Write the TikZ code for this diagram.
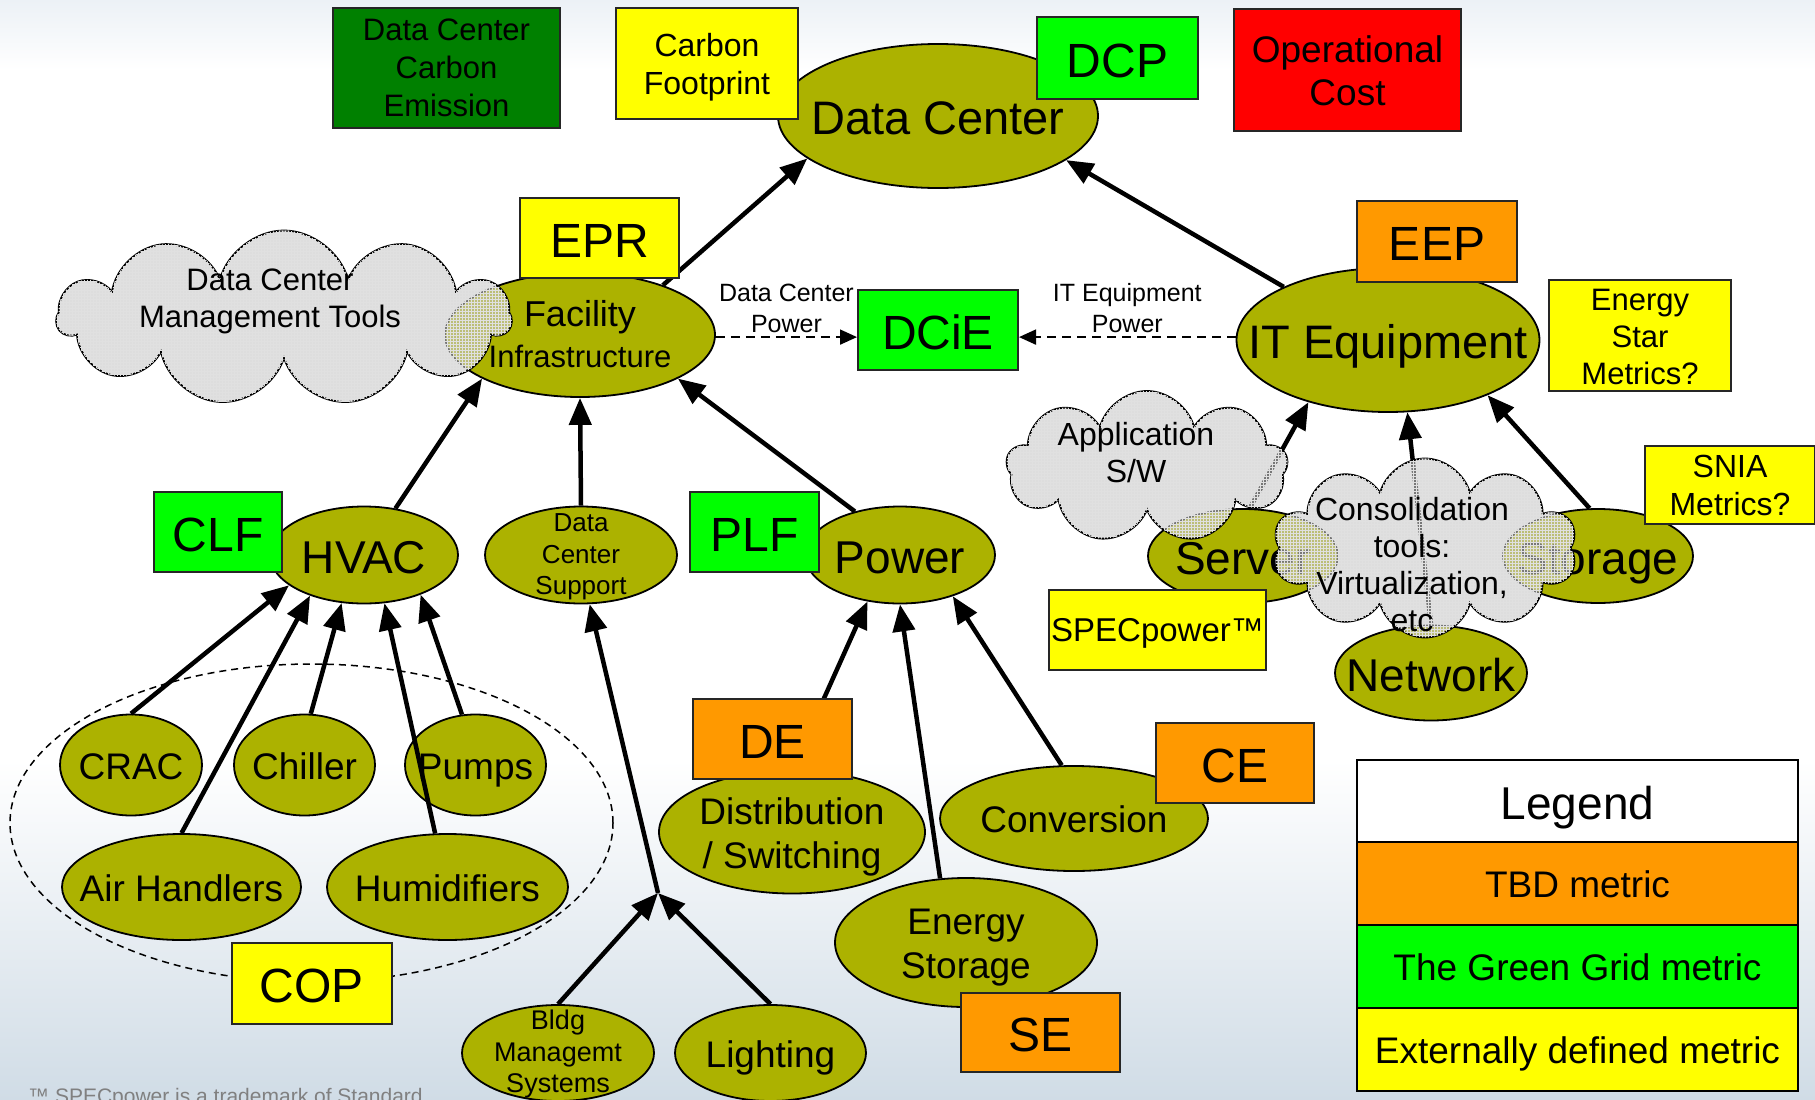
\documentclass[tikz,border=0pt]{standalone}
\usepackage{fontspec}
\setmainfont{Liberation Sans}
\usetikzlibrary{shapes.geometric,shapes.symbols,arrows.meta,patterns}
\definecolor{olivefill}{RGB}{172,178,0}
\definecolor{tgg}{RGB}{0,255,0}
\definecolor{dkg}{RGB}{0,128,0}
\definecolor{ylw}{RGB}{255,255,0}
\definecolor{org}{RGB}{255,153,0}
\definecolor{redbox}{RGB}{255,0,0}
\definecolor{topbg}{RGB}{236,241,246}
\definecolor{botbg}{RGB}{208,220,230}
\newcommand\zbo[3]{\makebox[0pt]{\raisebox{\dimexpr-0.31em+#2\relax}[0pt][0pt]{\hspace*{#1}\hspace*{#1}\begin{tabular}{@{}c@{}}#3\end{tabular}}}}
\newcommand\zb[1]{\zbo{0pt}{0pt}{#1}}
\begin{document}
\begin{tikzpicture}[x=1pt,y=-1pt,
  ell/.style={ellipse, draw=black, line width=1.8pt, fill=olivefill, inner sep=0pt, font=\fontsize{37}{44}\selectfont},
  mbox/.style={rectangle, draw=black!85, line width=2pt, inner sep=0pt, font=\fontsize{48}{52}\selectfont},
  cld/.style={cloud, cloud ignores aspect, draw=black, line width=1.8pt, fill=black!22, fill opacity=0.6, text opacity=1, inner sep=0pt, font=\fontsize{32}{37}\selectfont},
  legrow/.style={rectangle, draw=black, line width=2.5pt, inner sep=0pt, minimum width=441pt, minimum height=83pt, font=\fontsize{37}{44}\selectfont},
  arr/.style={line width=4.5pt, -{Triangle[length=27pt,width=22pt]}},
  darr/.style={line width=1.8pt, dash pattern=on 9pt off 6pt, -{Triangle[length=17pt,width=15pt]}},
  lab/.style={font=\fontsize{25}{31}\selectfont, align=center, inner sep=3pt},
]
\useasboundingbox (0,0) rectangle (1815,1100);
\fill[white] (0,0) rectangle (1815,1100);
\shade[top color=topbg, bottom color=white] (0,0) rectangle (1815,70);
\shade[top color=white, bottom color=botbg] (0,760) rectangle (1815,1100);

% dashed group ellipse
\node[ellipse, draw=black, line width=1.5pt, dash pattern=on 7pt off 5pt, minimum width=603pt, minimum height=318pt, inner sep=0pt] (hvacgrp) at (311.5,823) {};

% ellipses
\node[ell, minimum width=320pt, minimum height=144pt, font=\fontsize{47}{52}\selectfont] (dc) at (938,116) {\zb{Data Center}};
\node[ell, minimum width=270pt, minimum height=124pt, font=\fontsize{31}{41}\selectfont] (fac) at (580,335) {\zb{{\fontsize{36}{41}\selectfont Facility}\\Infrastructure}};
\node[ell, minimum width=303pt, minimum height=144pt, font=\fontsize{47}{52}\selectfont] (it) at (1388,340) {\zb{IT Equipment}};
\node[ell, minimum width=188pt, minimum height=97pt, font=\fontsize{46}{50}\selectfont] (hvac) at (364,555) {\zb{HVAC}};
\node[ell, minimum width=192pt, minimum height=97pt, font=\fontsize{26}{31.5}\selectfont] (dcs) at (581,555) {\zb{Data\\Center\\Support}};
\node[ell, minimum width=190pt, minimum height=97pt, font=\fontsize{46}{50}\selectfont] (power) at (900,555) {\zb{Power}};
\node[ell, minimum width=190pt, minimum height=94pt, font=\fontsize{46}{50}\selectfont] (server) at (1243,556) {\zb{Server}};
\node[ell, minimum width=190pt, minimum height=94pt, font=\fontsize{46}{50}\selectfont] (storage) at (1598,556) {\zb{Storage}};
\node[ell, minimum width=192pt, minimum height=95pt, font=\fontsize{46}{50}\selectfont] (network) at (1431,673) {\zb{Network}};
\node[ell, minimum width=142pt, minimum height=101pt] (crac) at (131,765) {\zb{CRAC}};
\node[ell, minimum width=141pt, minimum height=101pt] (chiller) at (304.5,765) {\zb{Chiller}};
\node[ell, minimum width=141pt, minimum height=101pt] (pumps) at (475.5,765) {\zb{Pumps}};
\node[ell, minimum width=239pt, minimum height=106pt] (airh) at (181.5,887) {\zb{Air Handlers}};
\node[ell, minimum width=241pt, minimum height=106pt] (humid) at (447.5,887) {\zb{Humidifiers}};
\node[ell, minimum width=266pt, minimum height=123pt] (dist) at (792,832) {\zb{Distribution\\/ Switching}};
\node[ell, minimum width=268pt, minimum height=105pt] (conv) at (1074,818.5) {\zb{Conversion}};
\node[ell, minimum width=262pt, minimum height=129pt] (estor) at (966,942.5) {\zb{Energy\\Storage}};
\node[ell, minimum width=192pt, minimum height=96pt, font=\fontsize{27}{31.5}\selectfont] (bldg) at (558,1053) {\zb{Bldg\\Managemt\\Systems}};
\node[ell, minimum width=191pt, minimum height=96pt] (light) at (770.5,1053) {\zb{Lighting}};
\coordinate (j) at (658,893);
\node[mbox, fill=tgg, minimum width=160pt, minimum height=80pt] (dcie) at (938,330) {\zb{DCiE}};

% connectors
\draw[arr] (fac.31) -- (dc.198);
\draw[arr] (it.153) -- (dc.341);
\draw[darr] (fac.east |- dcie.185) -- (dcie.185) node[lab, midway, above] {Data Center\\Power};
\draw[darr] (it.west |- dcie.-5) -- (dcie.-5) node[lab, midway, above] {IT Equipment\\Power};
\draw[arr] (hvac.56) -- (fac.204);
\draw[arr] (dcs.north) -- (fac.south);
\draw[arr] (power.136) -- (fac.336);
\draw[arr] (crac.north) -- (hvac.202);
\draw[arr] (airh.north) -- (hvac.217);
\draw[arr] (chiller.83) -- (hvac.245);
\draw[arr] (humid.103) -- (hvac.293);
\draw[arr] (pumps.105) -- (hvac.325);
\draw[arr] (bldg.north) -- (j);
\draw[arr] (light.north) -- (j);
\draw[arr] (j) -- (dcs.280);
\draw[arr] (dist.north) -- (power.235);
\draw[arr] (estor.112) -- (power.south);
\draw[arr] (conv.103) -- (power.322);
\draw[arr] (server.82) -- (it.218);
\draw[arr] (network.north) -- (it.285);
\draw[arr] (storage.100) -- (it.331);

% metric boxes
\node[mbox, fill=dkg, minimum width=227pt, minimum height=120pt, font=\fontsize{31}{38}\selectfont] (dcce) at (446.5,68) {\zb{Data Center\\Carbon\\Emission}};
\node[mbox, fill=ylw, minimum width=182pt, minimum height=111pt, font=\fontsize{32}{38}\selectfont] (cfp) at (707,63.5) {\zbo{0pt}{-1pt}{Carbon\\Footprint}};
\node[mbox, fill=tgg, minimum width=161pt, minimum height=82pt] (dcp) at (1117.5,58) {\zb{DCP}};
\node[mbox, fill=redbox, minimum width=227pt, minimum height=122pt, font=\fontsize{37}{43}\selectfont] (opc) at (1347.5,70) {\zb{Operational\\Cost}};
\node[mbox, fill=ylw, minimum width=159pt, minimum height=80pt] (epr) at (599.5,238) {\zb{EPR}};
\node[mbox, fill=org, minimum width=160pt, minimum height=81pt] (eep) at (1437,241.5) {\zb{EEP}};
\node[mbox, fill=ylw, minimum width=182pt, minimum height=111pt, font=\fontsize{31}{37}\selectfont] (estar) at (1640,335.5) {\zbo{0pt}{-1pt}{Energy\\Star\\Metrics?}};
\node[mbox, fill=ylw, minimum width=170pt, minimum height=78pt, font=\fontsize{32}{38}\selectfont] (snia) at (1730,485) {\zb{SNIA\\Metrics?}};
\node[mbox, fill=ylw, minimum width=217pt, minimum height=80pt, font=\fontsize{33}{38}\selectfont] (specp) at (1157.5,630) {\zb{SPECpower™}};
\node[mbox, fill=tgg, minimum width=128pt, minimum height=80pt] (clf) at (218,532) {\zb{CLF}};
\node[mbox, fill=tgg, minimum width=129pt, minimum height=80pt] (plf) at (754.5,532) {\zb{PLF}};
\node[mbox, fill=org, minimum width=159pt, minimum height=80pt] (de) at (772.5,739) {\zb{DE}};
\node[mbox, fill=org, minimum width=158pt, minimum height=80pt] (ce) at (1235,763) {\zb{CE}};
\node[mbox, fill=org, minimum width=159pt, minimum height=79pt] (se) at (1040.5,1032.5) {\zb{SE}};
\node[mbox, fill=ylw, minimum width=160pt, minimum height=81pt] (cop) at (312,983.5) {\zb{COP}};

% clouds
\node[cld, cloud puffs=11, minimum width=454pt, minimum height=175pt, font=\fontsize{31}{37}\selectfont, postaction={pattern=grid, pattern color=black!12}] (dcmt) at (284,318) {\zbo{-14pt}{20pt}{Data Center\\Management Tools}};
\node[cld, cloud puffs=9, minimum width=281pt, minimum height=152pt, postaction={pattern=grid, pattern color=black!12}] (appsw) at (1147,467) {\zbo{-11pt}{14pt}{Application\\S/W}};
\node[cld, cloud puffs=10, minimum width=304pt, minimum height=179pt, postaction={pattern=grid, pattern color=black!12}] (consol) at (1425,548) {\zbo{-13pt}{-17pt}{Consolidation\\tools:\\Virtualization,\\etc}};

% legend
\node[legrow, fill=white, minimum height=82pt, font=\fontsize{46}{50}\selectfont] (lg0) at (1577.5,801) {\zb{Legend}};
\node[legrow, fill=org] (lg1) at (1577.5,883.5) {\zb{TBD metric}};
\node[legrow, fill=tgg] (lg2) at (1577.5,966.5) {\zb{The Green Grid metric}};
\node[legrow, fill=ylw] (lg3) at (1577.5,1049.5) {\zb{Externally defined metric}};

% footnote
\node[anchor=base west, text=black!50, inner sep=0pt, font=\fontsize{21}{25}\selectfont] (foot) at (28,1103) {™ SPECpower is a trademark of Standard};
\end{tikzpicture}
\end{document}
